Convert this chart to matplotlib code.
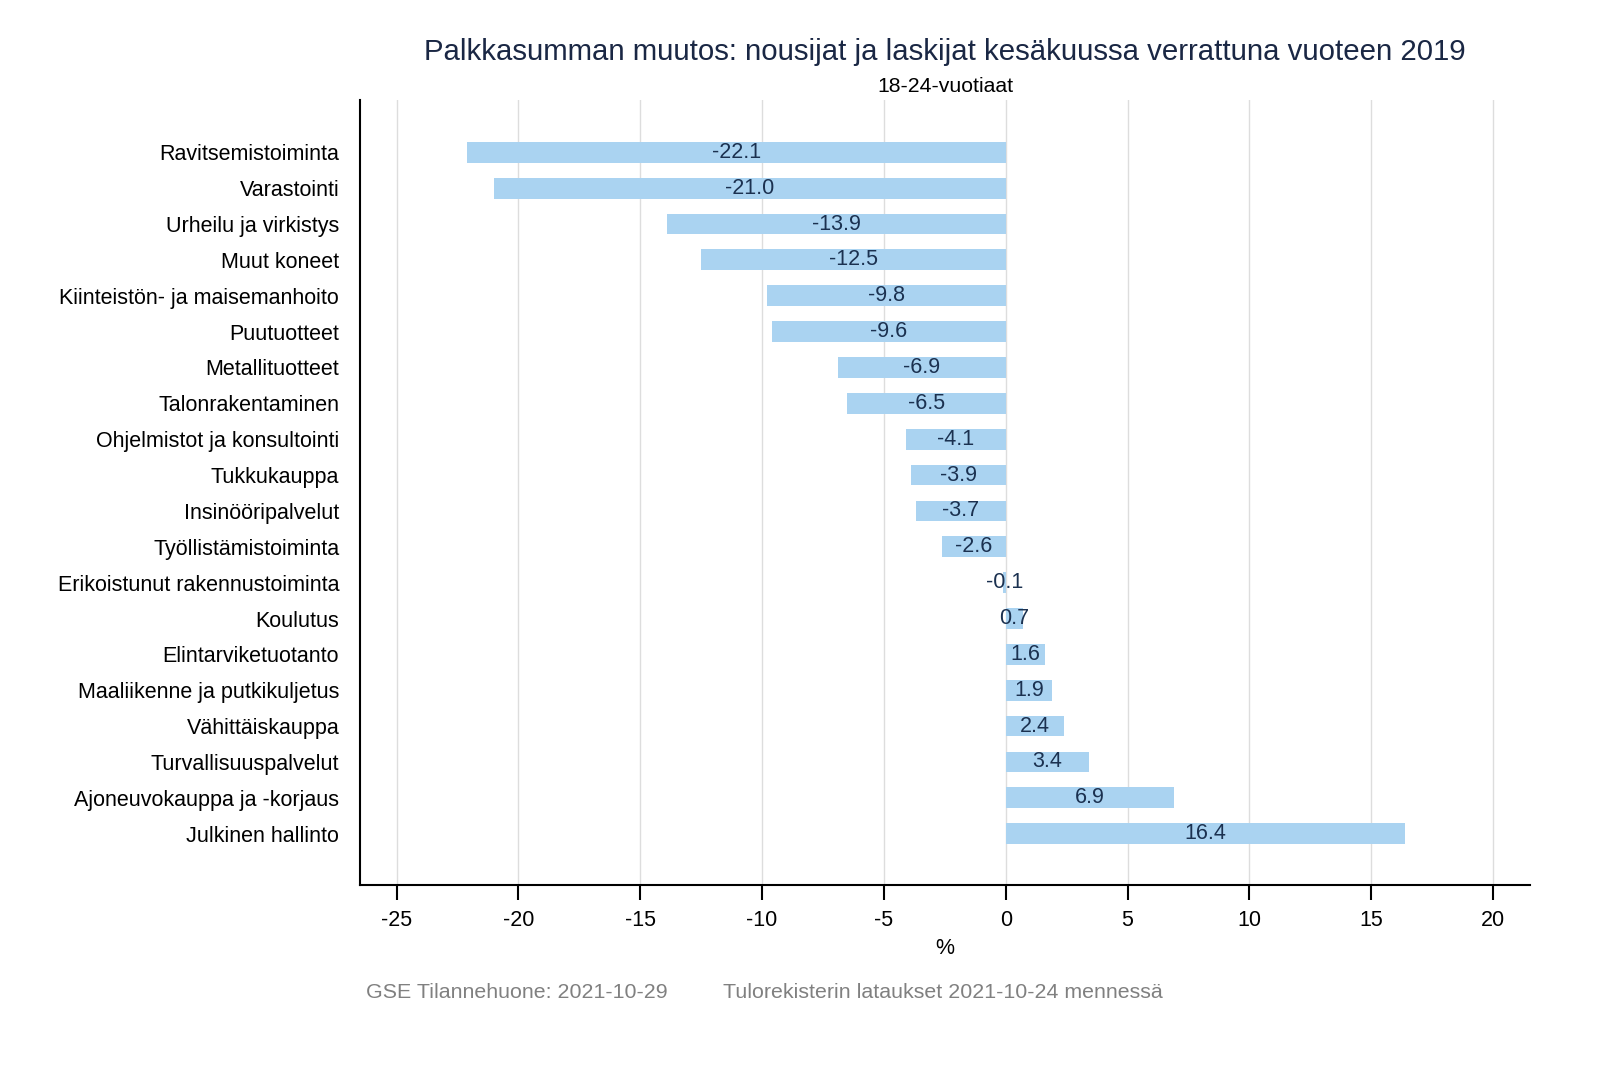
import matplotlib
matplotlib.use("Agg")
import matplotlib.pyplot as plt

categories = [
    "Ravitsemistoiminta", "Varastointi", "Urheilu ja virkistys", "Muut koneet",
    "Kiinteistön- ja maisemanhoito", "Puutuotteet", "Metallituotteet",
    "Talonrakentaminen", "Ohjelmistot ja konsultointi", "Tukkukauppa",
    "Insinööripalvelut", "Työllistämistoiminta", "Erikoistunut rakennustoiminta",
    "Koulutus", "Elintarviketuotanto", "Maaliikenne ja putkikuljetus",
    "Vähittäiskauppa", "Turvallisuuspalvelut", "Ajoneuvokauppa ja -korjaus",
    "Julkinen hallinto",
]
values = [-22.1, -21.0, -13.9, -12.5, -9.8, -9.6, -6.9, -6.5, -4.1, -3.9,
          -3.7, -2.6, -0.1, 0.7, 1.6, 1.9, 2.4, 3.4, 6.9, 16.4]
xticks = [-25, -20, -15, -10, -5, 0, 5, 10, 15, 20]

plt.rcParams['font.family'] = ['Liberation Sans', 'DejaVu Sans']

fig = plt.figure(figsize=(16, 10.67), dpi=100)
ax = fig.add_axes([0.225, 0.1706, 0.731, 0.7354])

bar_color = "#aad3f1"
label_color = "#1b3150"
fs = 15.5
n = len(categories)
ypos = list(range(n))
ax.barh(ypos, values, height=0.58, color=bar_color, zorder=2)
for y, v in zip(ypos, values):
    ax.text(v / 2, y, f"{v:.1f}", ha="center", va="center", fontsize=fs,
            color=label_color, zorder=3)

ax.set_yticks(ypos)
ax.set_yticklabels(categories, fontsize=fs)
ax.set_ylim(n - 1 + 1.43, -1.45)
ax.set_xlim(-26.5, 21.5)
ax.set_xticks(xticks)
ax.set_xticklabels([str(t) for t in xticks], fontsize=fs)
ax.tick_params(axis="y", length=0, pad=15)
ax.tick_params(axis="x", length=11, width=1.5, pad=7)
ax.grid(axis="x", color="#dddddd", linewidth=1, zorder=0)
ax.set_axisbelow(True)
for s in ["top", "right"]:
    ax.spines[s].set_visible(False)
for s in ["left", "bottom"]:
    ax.spines[s].set_linewidth(1.5)
ax.set_xlabel("%", fontsize=fs, labelpad=5)

fig.text(0.5906, 0.951, "Palkkasumman muutos: nousijat ja laskijat kesäkuussa verrattuna vuoteen 2019",
         ha="center", va="center", fontsize=21.2, color="#1a2744")
fig.text(0.5906, 0.919, "18-24-vuotiaat", ha="center", va="center", fontsize=15.3, color="black")
fig.text(366 / 1600, 1 - 992 / 1067, "GSE Tilannehuone: 2021-10-29", ha="left", va="center",
         fontsize=15.4, color="#808080")
fig.text(723 / 1600, 1 - 992 / 1067, "Tulorekisterin lataukset 2021-10-24 mennessä", ha="left",
         va="center", fontsize=15.4, color="#808080")

fig.savefig("out.png", dpi=100)
